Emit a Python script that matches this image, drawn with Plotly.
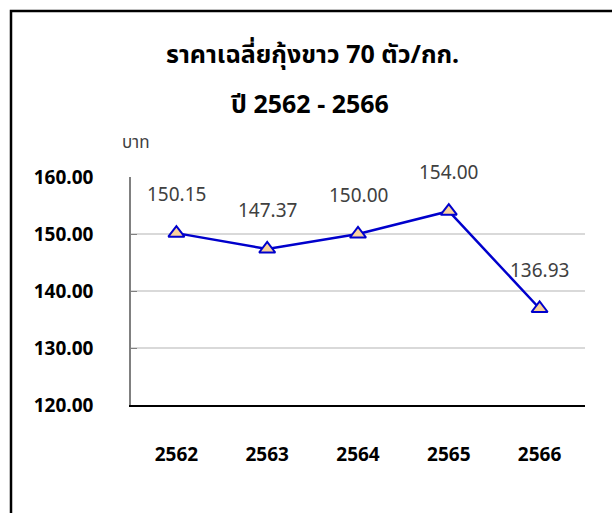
import plotly.graph_objects as go

years = ["2562", "2563", "2564", "2565", "2566"]
prices = [150.15, 147.37, 150.00, 154.00, 136.93]
price_labels = ["150.15", "147.37", "150.00", "154.00", "136.93"]
y_ticks = [120, 130, 140, 150, 160]
y_tick_labels = ["120.00", "130.00", "140.00", "150.00", "160.00"]

W, H = 612, 513
L, R, T, B = 131, 27, 177, 108
pw, ph = W - L - R, H - T - B

FONT = "Noto Sans, Noto Sans Thai, Tahoma, sans-serif"

fig = go.Figure()
fig.add_trace(go.Scatter(
    x=years, y=prices, mode="lines+markers",
    line=dict(color="#0000CC", width=2.5),
    marker=dict(symbol="triangle-up", size=14, color="#FAD29B",
                line=dict(color="#0000CC", width=2)),
    hoverinfo="skip", showlegend=False,
))

for i, (y, t) in enumerate(zip(prices, price_labels)):
    fig.add_annotation(x=i, y=y, xref="x", yref="y", text=t, showarrow=False,
                       yshift=39,
                       font=dict(family=FONT, size=19, color="#404040"))

def px_x(p):
    return (p - L) / pw

def px_y(p):
    return (H - B - p) / ph

fig.add_shape(type="rect", xref="paper", yref="paper",
              x0=px_x(11), x1=px_x(640), y0=px_y(11), y1=px_y(540),
              line=dict(color="black", width=2.5), layer="below")

fig.add_annotation(xref="paper", yref="paper", x=px_x(312), y=px_y(34),
                   text="<b>ราคาเฉลี่ยกุ้งขาว 70 ตัว/กก.</b>", showarrow=False,
                   font=dict(family=FONT, size=25, color="black"))
fig.add_annotation(xref="paper", yref="paper", x=px_x(310), y=px_y(84),
                   text="<b>ปี 2562 - 2566</b>", showarrow=False,
                   font=dict(family=FONT, size=25, color="black"))
fig.add_annotation(xref="paper", yref="paper", x=px_x(120), y=px_y(128),
                   text="บาท", showarrow=False,
                   font=dict(family=FONT, size=17, color="#404040"))

fig.update_layout(
    width=W, height=H,
    margin=dict(l=L, r=R, t=T, b=B),
    paper_bgcolor="white", plot_bgcolor="white",
    font=dict(family=FONT),
    xaxis=dict(type="category", range=[-0.5, 4.5], showgrid=False,
               showline=True, linecolor="black", linewidth=2,
               ticks="", tickfont=dict(size=19, color="black", family=FONT),
               ticklabelstandoff=31, tickprefix="<b>", ticksuffix="</b>"),
    yaxis=dict(range=[120, 160], tickvals=y_ticks,
               ticktext=["<b>%s</b>" % s for s in y_tick_labels],
               showgrid=True, gridcolor="#D9D9D9", gridwidth=1.5,
               showline=True, linecolor="#808080", linewidth=1.5,
               ticks="inside", ticklen=6, tickcolor="#808080",
               tickfont=dict(size=19, color="black", family=FONT),
               ticklabelstandoff=32, zeroline=False),
)

fig.write_html("out.html", config={"displayModeBar": False},
               post_script="document.body.style.margin='0';")
